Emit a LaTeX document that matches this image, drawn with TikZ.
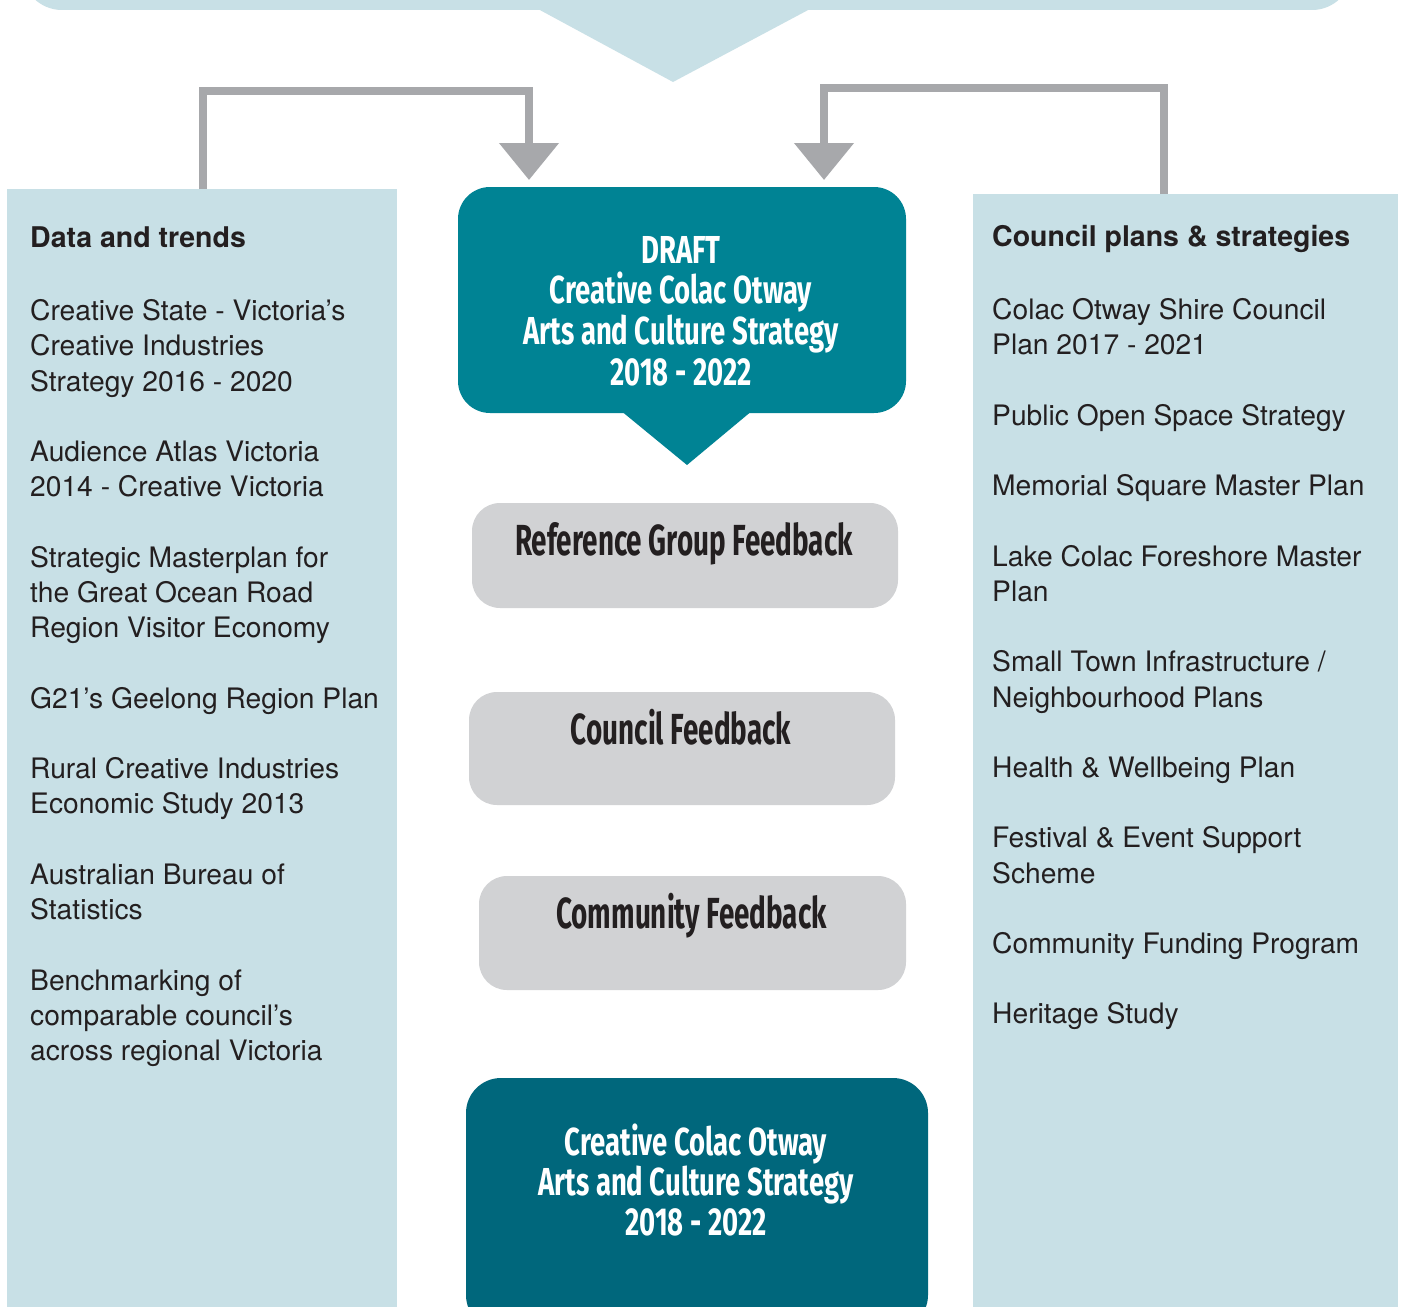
\documentclass[tikz,border=0pt]{standalone}
\usepackage{fontspec}
\setmainfont{TeX Gyre Heros}
\newfontfamily\condwfont[FakeStretch=0.705]{Fira Sans}
\newfontfamily\condgfont[FakeStretch=0.64]{Fira Sans}
\usetikzlibrary{arrows.meta}
\definecolor{paleblue}{HTML}{C8E0E6}
\definecolor{tealA}{HTML}{008394}
\definecolor{tealB}{HTML}{00677C}
\definecolor{boxgray}{HTML}{D1D2D4}
\definecolor{linegray}{HTML}{A7A8AB}
\definecolor{ink}{HTML}{231F20}
\tikzset{
  panel/.style={fill=paleblue, draw=none, inner sep=0pt, anchor=north west},
  graybox/.style={fill=boxgray, draw=none, rounded corners=28pt, inner sep=0pt},
  tealbox/.style={draw=none, rounded corners=32pt, inner sep=0pt},
  body/.style={anchor=base west, inner sep=0pt, text=ink, font=\fontsize{28.2}{35}\selectfont},
  head/.style={anchor=base west, inner sep=0pt, text=ink, font=\bfseries\fontsize{28.5}{35}\selectfont},
  condw/.style={anchor=base, inner sep=0pt, text=white, font=\condwfont\bfseries\fontsize{39}{41}\selectfont},
  condg/.style={anchor=base, inner sep=0pt, text=ink, font=\condgfont\bfseries\fontsize{43.5}{45}\selectfont},
  conn/.style={draw=linegray, line width=8pt, line join=miter, -{Triangle[width=58pt,length=37pt]}},
}
\begin{document}
\begin{tikzpicture}[x=1pt,y=-1pt]
\useasboundingbox (0,0) rectangle (1404,1306);
\clip (0,0) rectangle (1404,1306);
\fill[white] (0,0) rectangle (1404,1306);

% top banner
\node[fill=paleblue, rounded corners=40pt, inner sep=0pt, minimum width=1330pt, minimum height=80pt] (topbox) at (687,-30) {};
\fill[paleblue] (538,9) -- (810,9) -- (673,82) -- cycle;

% side panels
\node[panel, minimum width=390pt, minimum height=1140pt] (leftpanel) at (7,189) {};
\node[panel, minimum width=425pt, minimum height=1140pt] (rightpanel) at (973,194) {};

% connectors
\coordinate (lsrc) at (202.5,189);
\coordinate (lbend) at (529,91);
\coordinate (ltip) at (529,180);
\coordinate (rsrc) at (1163.5,194);
\coordinate (rbend) at (824,88);
\coordinate (rtip) at (824,180);
\draw[conn] (lsrc) |- (lbend) -- (ltip);
\draw[conn] (rsrc) |- (rbend) -- (rtip);

% draft box
\node[tealbox, fill=tealA, minimum width=448pt, minimum height=226pt] (draft) at (682,300) {};
\fill[tealA] (620,410) -- (753,410) -- (687,465) -- cycle;
\node[condw] (d1) at (681,263) {DRAFT};
\node[condw] (d2) at (681,303) {Creative Colac Otway};
\node[condw] (d3) at (681,344) {Arts and Culture Strategy};
\node[condw] (d4) at (681,385) {2018 - 2022};

% feedback boxes
\node[graybox, minimum width=426pt, minimum height=105pt] (ref) at (685,555.5) {};
\node[condg] (reft) at (684,555) {Reference Group Feedback};
\node[graybox, minimum width=426pt, minimum height=113pt] (council) at (682,748.5) {};
\node[condg] (councilt) at (681,744) {Council Feedback};
\node[graybox, minimum width=427pt, minimum height=114pt] (community) at (692.5,933) {};
\node[condg] (communityt) at (691.5,928) {Community Feedback};

% final box
\node[tealbox, fill=tealB, rounded corners=35pt, minimum width=462pt, minimum height=252pt] (final) at (697,1204) {};
\node[condw] (f1) at (696,1155) {Creative Colac Otway};
\node[condw] (f2) at (696,1195) {Arts and Culture Strategy};
\node[condw] (f3) at (696,1235) {2018 - 2022};

% left texts
\node[head] (lhead) at (30,247) {Data and trends};
\foreach \t/\y [count=\i] in {
  {Creative State - Victoria’s}/320, {Creative Industries}/355, {Strategy 2016 - 2020}/391,
  {Audience Atlas Victoria}/461, {2014 - Creative Victoria}/496,
  {Strategic Masterplan for}/567, {the Great Ocean Road}/602, {Region Visitor Economy}/637,
  {G21’s Geelong Region Plan}/708,
  {Rural Creative Industries}/778, {Economic Study 2013}/813,
  {Australian Bureau of}/884, {Statistics}/919,
  {Benchmarking of}/990, {comparable council’s}/1025, {across regional Victoria}/1060}
  \node[body] (l\i) at (30,\y) {\t};

% right texts
\node[head] (rhead) at (992,246) {Council plans \& strategies};
\foreach \t/\y [count=\i] in {
  {Colac Otway Shire Council}/319, {Plan 2017 - 2021}/354,
  {Public Open Space Strategy}/425,
  {Memorial Square Master Plan}/495,
  {Lake Colac Foreshore Master}/566, {Plan}/601,
  {Small Town Infrastructure /}/671, {Neighbourhood Plans}/707,
  {Health \& Wellbeing Plan}/777,
  {Festival \& Event Support}/847, {Scheme}/883,
  {Community Funding Program}/953,
  {Heritage Study}/1023}
  \node[body] (r\i) at (992,\y) {\t};
\end{tikzpicture}
\end{document}
